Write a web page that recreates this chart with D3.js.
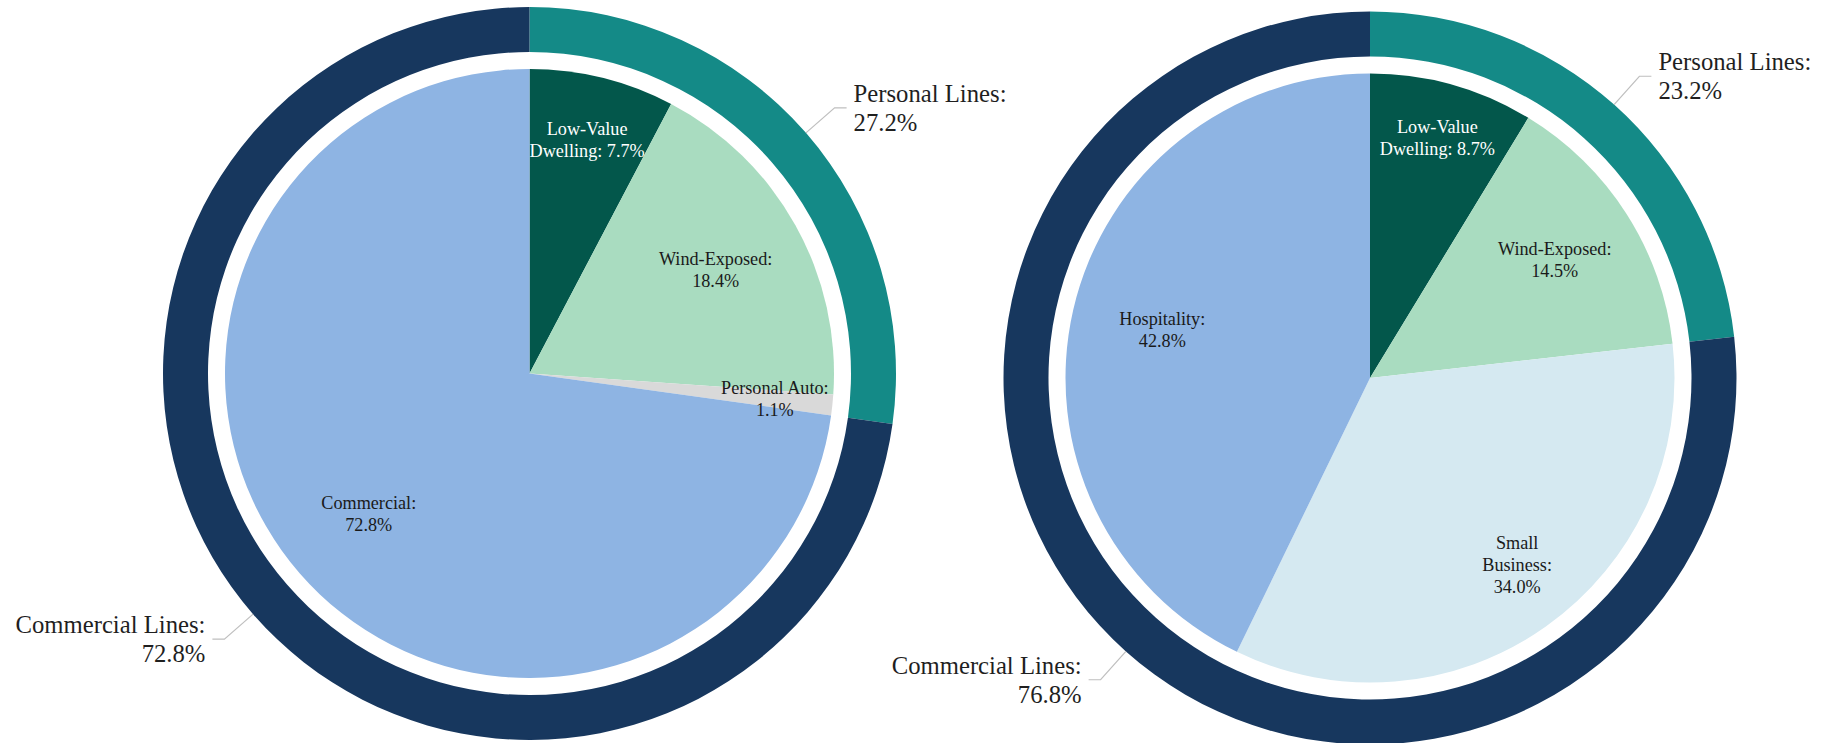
<!DOCTYPE html>
<html>
<head>
<meta charset="utf-8">
<script src="https://cdn.jsdelivr.net/npm/d3@7/dist/d3.min.js"></script>
<style>
  html, body { margin: 0; padding: 0; background: #ffffff; }
  svg { display: block; }
  text { font-family: "Liberation Serif", "Times New Roman", serif; }
</style>
</head>
<body>
<svg id="chart" width="1831" height="743"></svg>
<script>
// ---- Portfolio mix: left book ----
const leftSegments = ["Low-Value\nDwelling", "Wind-Exposed", "Personal Auto", "Commercial"];
const leftShares = [7.7, 18.4, 1.1, 72.8];
const leftLines = ["Personal Lines", "Commercial Lines"];
const leftLineShares = [27.2, 72.8];

// ---- Portfolio mix: right book ----
const rightSegments = ["Low-Value\nDwelling", "Wind-Exposed", "Small\nBusiness", "Hospitality"];
const rightShares = [8.7, 14.5, 34.0, 42.8];
const rightLines = ["Personal Lines", "Commercial Lines"];
const rightLineShares = [23.2, 76.8];

// ---- Styling ----
const leftSegmentColors = ["#03574b", "#a9dcc0", "#d9d9d9", "#8eb4e3"];
const rightSegmentColors = ["#03574b", "#a9dcc0", "#d5e9f1", "#8eb4e3"];
const lineColors = ["#148a87", "#17375e"];
const leftLabelColors = ["#ffffff", "#1a1a1a", "#1a1a1a", "#1a1a1a"];
const rightLabelColors = ["#ffffff", "#1a1a1a", "#1a1a1a", "#1a1a1a"];
// value printed on the same line as the last word of the name?
const leftValueInline = [true, false, false, false];
const rightValueInline = [true, false, false, false];
// label distance from centre, as a fraction of the pie radius
const leftLabelRadius = [0.79, 0.70, 0.81, 0.70];
const rightLabelRadius = [0.82, 0.72, 0.78, 0.70];
// small angular nudge (degrees) applied to each label
const leftLabelNudge = [0, 0, 0, 0];
const rightLabelNudge = [0, 0, -3, 0];

const svg = d3.select("#chart");
const fmt = v => v.toFixed(1) + "%";

const pieRadius = 304.5;
const ringInner = 321.5;
const ringOuter = 366.5;

function drawDonut(cfg) {
  const g = svg.append("g").attr("transform", `translate(${cfg.cx},${cfg.cy})`);

  const pie = d3.pie().sort(null).value(d => d.value);

  // inner pie: segments
  const segData = cfg.names.map((n, i) => ({ name: n, value: cfg.values[i], i }));
  const segArcs = pie(segData);
  const segArc = d3.arc().innerRadius(0).outerRadius(pieRadius);

  g.selectAll("path.seg")
    .data(segArcs)
    .join("path")
    .attr("class", "seg")
    .attr("d", segArc)
    .attr("fill", d => cfg.colors[d.data.i]);

  // outer ring: lines of business
  const ringData = cfg.lines.map((n, i) => ({ name: n, value: cfg.lineValues[i], i }));
  const ringArcs = pie(ringData);
  const ringArc = d3.arc().innerRadius(ringInner).outerRadius(ringOuter);

  g.selectAll("path.ring")
    .data(ringArcs)
    .join("path")
    .attr("class", "ring")
    .attr("d", ringArc)
    .attr("fill", d => lineColors[d.data.i]);

  // segment labels
  const fs = 18.2, lh = 22;
  segArcs.forEach(d => {
    const i = d.data.i;
    const mid = (d.startAngle + d.endAngle) / 2 + cfg.nudge[i] * Math.PI / 180;
    const r = pieRadius * cfg.labelRadius[i];
    const x = r * Math.sin(mid);
    const y = -r * Math.cos(mid);
    const words = d.data.name.split("\n");
    let rows = words.slice();
    if (cfg.inline[i]) {
      rows[rows.length - 1] += ": " + fmt(d.data.value);
    } else {
      rows[rows.length - 1] += ":";
      rows.push(fmt(d.data.value));
    }
    const first = y - (rows.length - 1) * lh / 2 + fs * 0.34;
    const t = g.append("text")
      .attr("text-anchor", "middle")
      .attr("font-size", fs)
      .attr("fill", cfg.labelColors[i]);
    rows.forEach((row, k) => {
      t.append("tspan").attr("x", x).attr("y", first + k * lh).text(row);
    });
  });

  // ring labels with leader lines
  const ofs = 24.7;
  ringArcs.forEach(d => {
    const mid = (d.startAngle + d.endAngle) / 2;
    const sx = Math.sin(mid), sy = -Math.cos(mid);
    const p0 = [ringOuter * sx, ringOuter * sy];
    const p1 = [(ringOuter + 38) * sx, (ringOuter + 38) * sy];
    const dir = sx >= 0 ? 1 : -1;
    const p2 = [p1[0] + dir * 12, p1[1]];
    g.append("path")
      .attr("d", d3.line()([p0, p1, p2]))
      .attr("fill", "none")
      .attr("stroke", "#bfbfbf")
      .attr("stroke-width", 1.2);
    const tx = p2[0] + dir * 7;
    const t = g.append("text")
      .attr("text-anchor", dir > 0 ? "start" : "end")
      .attr("font-size", ofs)
      .attr("fill", "#1f1f1f");
    t.append("tspan").attr("x", tx).attr("y", p1[1] - 6).text(d.data.name + ":");
    t.append("tspan").attr("x", tx).attr("y", p1[1] + 23).text(fmt(d.data.value));
  });
}

drawDonut({
  cx: 529.5, cy: 373.5,
  names: leftSegments, values: leftShares, colors: leftSegmentColors,
  labelColors: leftLabelColors, inline: leftValueInline,
  labelRadius: leftLabelRadius, nudge: leftLabelNudge,
  lines: leftLines, lineValues: leftLineShares
});

drawDonut({
  cx: 1370, cy: 378,
  names: rightSegments, values: rightShares, colors: rightSegmentColors,
  labelColors: rightLabelColors, inline: rightValueInline,
  labelRadius: rightLabelRadius, nudge: rightLabelNudge,
  lines: rightLines, lineValues: rightLineShares
});
</script>
</body>
</html>
